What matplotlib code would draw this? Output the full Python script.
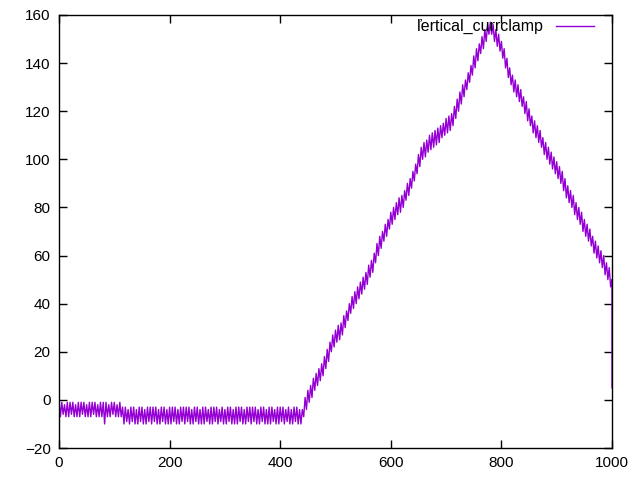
#!/usr/bin/env python

import numpy as np
import matplotlib
matplotlib.use("Agg")
import matplotlib.pyplot as plt

# signal sampled every 2.5 units, read off the picture
# start (0 .. 110): band between about -1 and -7
y_start = [-1, -7, -1, -6, -2, -7, -1, -7, -1, -6,
           -1, -7, -2, -7, -1, -7, -1, -6, -1, -7,
           -2, -7, -1, -7, -1, -6, -1, -7, -2, -7,
           -1, -7, -1, -10, -1, -7, -2, -7, -1, -6,
           -1, -7, -2, -7, -1]
# baseline (112.5 .. 440): band between about -3 and -10
y_base = [-7, -3, -10, -3, -9, -4, -10, -3, -9, -3, -10, -4,
          -10, -3, -9, -3, -10, -4, -10, -3, -9, -3, -10, -3,
          -9, -3, -10, -4, -10, -3, -9, -3, -10, -4, -10, -3,
          -10, -3, -9, -3, -10, -4, -10, -3, -9, -3, -10, -3,
          -9, -3, -10, -4, -10, -3, -9, -3, -10, -4, -10, -3,
          -10, -3, -9, -4, -10, -3, -10, -3, -9, -3, -10, -4,
          -9, -3, -10, -4, -10, -3, -9, -3, -10, -4, -10, -3,
          -10, -3, -9, -3, -10, -4, -10, -3, -9, -3, -10, -3,
          -9, -3, -10, -4, -10, -3, -9, -3, -10, -4, -10, -3,
          -10, -3, -9, -4, -10, -3, -10, -3, -9, -3, -10, -4,
          -9, -3, -10, -4, -10, -3, -9, -3, -10, -4, -10, -4]
# ramp (442.5 .. 1000): up to the peak and down again
y_ramp = [-7, 1, -4, 4, -1, 6, 1, 9, 4, 11, 6, 13, 8, 15, 10, 18,
          13, 21, 16, 24, 20, 27, 22, 29, 24, 31, 25, 32, 27, 35, 30, 37,
          33, 40, 36, 43, 38, 45, 40, 47, 42, 49, 44, 51, 46, 53, 48, 56,
          51, 58, 53, 61, 57, 65, 60, 68, 63, 70, 66, 73, 68, 75, 71, 78,
          73, 80, 75, 82, 77, 84, 78, 85, 80, 87, 83, 90, 85, 92, 88, 95,
          91, 98, 94, 102, 97, 105, 100, 107, 101, 108, 103, 110, 104, 111,
          105, 112, 106, 113, 107, 114, 109, 115, 110, 117, 111, 118, 112,
          119, 114, 122, 117, 125, 120, 128, 123, 131, 126, 133, 129, 136,
          132, 139, 135, 143, 138, 146, 141, 148, 144, 151, 146, 154, 149,
          156, 152, 157, 152, 156, 149, 154, 147, 152, 145, 149, 142, 146,
          138, 142, 134, 138, 131, 135, 128, 133, 126, 131, 124, 129, 122,
          126, 119, 124, 116, 121, 114, 118, 111, 116, 109, 114, 107, 112,
          105, 109, 102, 107, 100, 105, 98, 103, 96, 101, 94, 99, 92, 97,
          90, 95, 87, 92, 84, 89, 82, 87, 80, 85, 77, 82, 75, 80, 73, 78,
          70, 75, 68, 73, 66, 71, 64, 68, 61, 66, 59, 64, 57, 62, 55, 60,
          52, 57, 50, 55, 47, 50]
# last sample drops at x = 1000
end_x = 1000
end_y = 5

y = y_start + y_base + y_ramp
x = list(np.linspace(0, 1000, len(y))) + [end_x]
y = y + [end_y]

plt.rcParams['font.family'] = ['Liberation Sans', 'DejaVu Sans']
fig = plt.figure(figsize=(6.4, 4.8), dpi=100)
ax = fig.add_axes([59 / 640, 1 - 448 / 480, (612 - 59) / 640, (448 - 15) / 480])
ax.plot(x, y, color='#9400d3', linewidth=1.0, label='ľertical_currclamp')
ax.set_xlim(0, 1000)
ax.set_ylim(-20, 160)
ax.set_xticks(np.arange(0, 1001, 200))
ax.set_yticks(np.arange(-20, 161, 20))
ax.tick_params(direction='in', top=True, right=True, labelsize=11,
               length=6, width=1, pad=6)
for s in ax.spines.values():
    s.set_linewidth(1)
ax.legend(loc='upper right', frameon=False, markerfirst=False,
          handlelength=2.37, fontsize=11.5, borderaxespad=0.0,
          handletextpad=0.8, bbox_to_anchor=(0.979, 1.005))
fig.savefig('out.png')
